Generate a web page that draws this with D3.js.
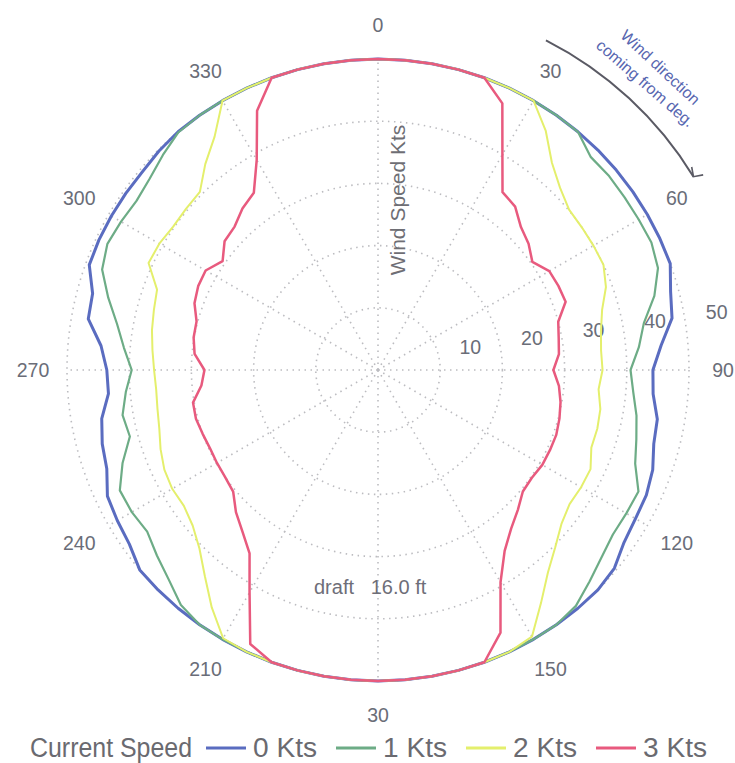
<!DOCTYPE html>
<html>
<head>
<meta charset="utf-8">
<script src="https://cdn.jsdelivr.net/npm/d3@7"></script>
<style>
  html, body { margin: 0; padding: 0; background: #fff; }
  svg { display: block; }
</style>
</head>
<body>
<svg id="chart" width="735" height="763"></svg>
<script>
// wind direction (deg, coming from), one sample every 5 deg
const angles = [0, 5, 10, 15, 20, 25, 30, 35, 40, 45, 50, 55, 60, 65, 70, 75, 80, 85,
  90, 95, 100, 105, 110, 115, 120, 125, 130, 135, 140, 145, 150, 155, 160, 165, 170, 175,
  180, 185, 190, 195, 200, 205, 210, 215, 220, 225, 230, 235, 240, 245, 250, 255, 260, 265,
  270, 275, 280, 285, 290, 295, 300, 305, 310, 315, 320, 325, 330, 335, 340, 345, 350, 355];

// max wind speed (kts) for each current speed
const kts0 = [50, 50, 50, 50, 50, 50, 50, 50, 50, 50, 50, 50, 50, 50, 50, 48.7, 48.0, 45.7,
  44.2, 44.4, 45.6, 45.9, 47.0, 47.6, 47.8, 48.3, 49.6, 50, 50, 50, 50, 50, 50, 50, 50, 50,
  50, 50, 50, 50, 50, 50, 50, 50, 50, 50, 50, 48.8, 48.4, 48.0, 46.4, 45.9, 45.1, 43.5,
  43.6, 44.7, 47.3, 47.5, 49.4, 49.5, 49.5, 49.5, 49.5, 49.8, 50, 50, 50, 50, 50, 50, 50, 50];
const kts1 = [50, 50, 50, 50, 50, 50, 50, 50, 50, 48.4, 48.5, 48.4, 48.4, 48.5, 47.9, 46.0, 43.4, 42.1,
  40.6, 41.2, 42.2, 43.0, 44.0, 46.2, 46.1, 46.1, 46.9, 48.1, 49.5, 50, 50, 50, 50, 50, 50, 50,
  50, 50, 50, 50, 50, 50, 50, 50, 49.3, 47.6, 46.4, 45.3, 45.7, 45.8, 43.7, 41.3, 41.7, 40.7,
  39.6, 41.0, 42.6, 44.9, 47.2, 48.0, 47.7, 47.4, 47.9, 48.9, 49.9, 50, 50, 50, 50, 50, 50, 50];
const kts2 = [50, 50, 50, 50, 50, 50, 50, 47.0, 43.5, 41.4, 40.1, 40.0, 40.0, 40.0, 39.0, 37.3, 36.4, 36.0,
  36.1, 35.6, 36.3, 36.5, 36.5, 37.7, 37.7, 37.6, 38.5, 40.3, 42.5, 45.7, 49.5, 50, 50, 50, 50, 50,
  50, 50, 50, 50, 50, 50, 49.8, 46.6, 43.3, 40.6, 38.9, 38.1, 38.2, 37.9, 37.2, 36.4, 36.0, 35.8,
  36.0, 36.4, 36.9, 37.3, 37.8, 40.7, 40.6, 40.2, 40.3, 40.5, 43.2, 45.8, 50, 50, 50, 50, 50, 50];
const kts3 = [50, 50, 50, 50, 50, 47.3, 40.0, 34.9, 34.3, 32.5, 31.6, 30.3, 31.8, 32.0, 32.1, 30.0, 29.5, 29.2,
  28.2, 29.2, 29.8, 30.2, 30.5, 30.5, 30.5, 30.2, 30.4, 31.8, 33.3, 35.5, 39.4, 46.6, 50, 50, 50, 50,
  50, 50, 50, 50, 50, 48.6, 41.3, 36.0, 33.9, 32.3, 30.4, 30.0, 29.9, 29.8, 30.0, 30.3, 30.2, 28.5,
  27.9, 29.6, 30.1, 30.2, 31.4, 31.9, 32.0, 30.5, 32.2, 32.6, 33.9, 34.8, 39.0, 46.0, 50, 50, 50, 50];

const seriesNames = ['0 Kts', '1 Kts', '2 Kts', '3 Kts'];
const seriesValues = [kts0, kts1, kts2, kts3];
const seriesColors = ['#5a6cc0', '#6dac86', '#e4ef6c', '#e85a7e'];
const seriesWidths = [3, 2.2, 2, 2.5];

const ringValues = [10, 20, 30, 40, 50];
const spokeAngles = [0, 30, 60, 90, 120, 150, 180, 210, 240, 270, 300, 330];
const spokeLabels = ['0', '30', '60', '90', '120', '150', '30', '210', '240', '270', '300', '330'];

const cx = 378;
const cy = 370;
const R = 311;
const labelGray = '#6a6d78';
const font = 'Liberation Sans, Arial, sans-serif';
const rad = (deg) => deg * Math.PI / 180;

const svg = d3.select('svg#chart');
const r = d3.scaleLinear().domain([0, 50]).range([0, R]);
const g = svg.append('g').attr('transform', `translate(${cx},${cy})`);

// dotted grid: rings and spokes
g.selectAll('circle.ring')
  .data(ringValues)
  .enter()
  .append('circle')
  .attr('class', 'ring')
  .attr('r', (d) => r(d))
  .attr('fill', 'none')
  .attr('stroke', '#bcbcc0')
  .attr('stroke-width', 1.6)
  .attr('stroke-dasharray', '1.5,4.5');

g.selectAll('line.spoke')
  .data(spokeAngles)
  .enter()
  .append('line')
  .attr('class', 'spoke')
  .attr('x1', 0)
  .attr('y1', 0)
  .attr('x2', (d) => r(50) * Math.sin(rad(d)))
  .attr('y2', (d) => -r(50) * Math.cos(rad(d)))
  .attr('stroke', '#bcbcc0')
  .attr('stroke-width', 1.6)
  .attr('stroke-dasharray', '1.5,4.5');

// angle labels
g.selectAll('text.angle')
  .data(spokeAngles)
  .enter()
  .append('text')
  .attr('class', 'angle')
  .attr('x', (d) => 345 * Math.sin(rad(d)))
  .attr('y', (d) => -345 * Math.cos(rad(d)))
  .attr('text-anchor', 'middle')
  .attr('dominant-baseline', 'central')
  .attr('font-family', font)
  .attr('font-size', '19.5px')
  .attr('fill', labelGray)
  .text((d, i) => spokeLabels[i]);

// ring labels, along the 82 deg line
g.selectAll('text.ringlabel')
  .data(ringValues)
  .enter()
  .append('text')
  .attr('class', 'ringlabel')
  .attr('x', (d) => (r(d) + 31) * Math.sin(rad(82)))
  .attr('y', (d) => -(r(d) + 31) * Math.cos(rad(82)) - 10)
  .attr('text-anchor', 'middle')
  .attr('dominant-baseline', 'central')
  .attr('font-family', font)
  .attr('font-size', '19.5px')
  .attr('fill', labelGray)
  .text((d) => d);

// the curves, blue underneath, red on top
const line = d3.lineRadial()
  .angle((d) => rad(d[0]))
  .radius((d) => r(d[1]))
  .curve(d3.curveLinearClosed);

g.selectAll('path.limit')
  .data(seriesValues)
  .enter()
  .append('path')
  .attr('class', 'limit')
  .attr('d', (vals) => line(angles.map((a, i) => [a, vals[i]])))
  .attr('fill', 'none')
  .attr('stroke', (d, i) => seriesColors[i])
  .attr('stroke-width', (d, i) => seriesWidths[i])
  .attr('stroke-linejoin', 'round');

// axis title
svg.append('text')
  .attr('transform', 'translate(397,200) rotate(-90)')
  .attr('text-anchor', 'middle')
  .attr('dominant-baseline', 'central')
  .attr('font-family', font)
  .attr('font-size', '21px')
  .attr('fill', '#6e6e74')
  .text('Wind Speed Kts');

svg.append('text')
  .attr('x', 314)
  .attr('y', 594)
  .attr('font-family', font)
  .attr('font-size', '20px')
  .attr('fill', '#6e6e78')
  .attr('xml:space', 'preserve')
  .text('draft   16.0 ft');

// wind direction note with arrow
const arcR = 370;
const arcStart = 27;
const arcEnd = 58.5;
g.append('path')
  .attr('d', d3.arc()({ innerRadius: arcR, outerRadius: arcR, startAngle: rad(arcStart), endAngle: rad(arcEnd) }))
  .attr('fill', 'none')
  .attr('stroke', '#5a5a64')
  .attr('stroke-width', 2);

const tipX = arcR * Math.sin(rad(arcEnd));
const tipY = -arcR * Math.cos(rad(arcEnd));
g.append('path')
  .attr('d', 'M-4,-9 L0,0 L9,-4')
  .attr('transform', `translate(${tipX},${tipY}) rotate(${arcEnd - 45})`)
  .attr('fill', 'none')
  .attr('stroke', '#5a5a64')
  .attr('stroke-width', 1.6);

const noteLines = ['Wind direction', 'coming from deg.'];
const noteR = [414, 392];
const noteRot = [43, 41];
g.selectAll('text.note')
  .data(noteLines)
  .enter()
  .append('text')
  .attr('class', 'note')
  .attr('transform', (d, i) => `translate(${noteR[i] * Math.sin(rad(43))},${-noteR[i] * Math.cos(rad(43))}) rotate(${noteRot[i]})`)
  .attr('text-anchor', 'middle')
  .attr('dominant-baseline', 'central')
  .attr('font-family', font)
  .attr('font-size', '16px')
  .attr('fill', '#5766b0')
  .text((d) => d);

// legend (narrow type, squeezed with textLength)
const legendY = 748;
const legend = svg.append('g');
legend.append('text')
  .attr('x', 30)
  .attr('y', legendY)
  .attr('dominant-baseline', 'central')
  .attr('font-family', font)
  .attr('font-size', '27px')
  .attr('textLength', 162)
  .attr('lengthAdjust', 'spacingAndGlyphs')
  .attr('fill', '#6a6a70')
  .text('Current Speed');

const items = legend.selectAll('g.item')
  .data(seriesNames)
  .enter()
  .append('g')
  .attr('class', 'item')
  .attr('transform', (d, i) => `translate(${206 + i * 130},${legendY})`);

items.append('line')
  .attr('x1', 0)
  .attr('x2', 40)
  .attr('stroke', (d, i) => seriesColors[i])
  .attr('stroke-width', 3);

items.append('text')
  .attr('x', 47)
  .attr('dominant-baseline', 'central')
  .attr('font-family', font)
  .attr('font-size', '27px')
  .attr('textLength', 64)
  .attr('lengthAdjust', 'spacingAndGlyphs')
  .attr('fill', '#6a6a70')
  .text((d) => d);
</script>
</body>
</html>
